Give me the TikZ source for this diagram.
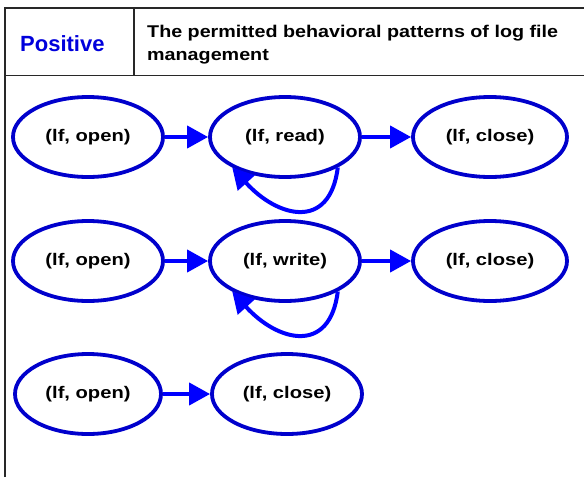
\documentclass[tikz,border=0pt]{standalone}
\usepackage{fontspec}
\setmainfont{Liberation Sans}
\newfontfamily\labfont{Liberation Sans}[FakeStretch=1.2]
\newfontfamily\hdrfont{Liberation Sans}[FakeStretch=1.16]
\usetikzlibrary{shapes.geometric,arrows.meta}
\definecolor{ringblue}{RGB}{0,0,204}
\definecolor{arrowblue}{RGB}{0,0,255}
\definecolor{titleblue}{RGB}{0,0,220}
\definecolor{framegray}{RGB}{40,40,40}
\tikzset{
  state/.style={ellipse, draw=ringblue, line width=3.8pt, inner sep=0pt,
    minimum width=150pt, minimum height=80pt,
    font=\labfont\bfseries\fontsize{16.8}{18}\selectfont},
  flow/.style={draw=arrowblue, line width=4pt,
    -{Triangle[length=21pt,width=22pt]}},
  frameline/.style={draw=framegray, line width=1.3pt}
}
\begin{document}
\begin{tikzpicture}[x=1pt,y=-1pt]
  \useasboundingbox (0,0) rectangle (584,477);

  % table frame and header
  \draw[frameline] (5,477) -- (5,8) -- (584,8);
  \draw[frameline] (5,75.5) -- (584,75.5);
  \draw[frameline] (134,8) -- (134,75.5);
  \node[anchor=base west, inner sep=0pt, text=titleblue,
        font=\bfseries\fontsize{22}{24}\selectfont] (pos) at (20,51) {Positive};
  \node[anchor=base west, inner sep=0pt,
        font=\hdrfont\bfseries\fontsize{17}{19}\selectfont] (hdr1) at (147,37)
        {The permitted behavioral patterns of log file};
  \node[anchor=base west, inner sep=0pt,
        font=\hdrfont\bfseries\fontsize{17}{19}\selectfont] (hdr2) at (147,60)
        {management};

  % read sequence
  \node[state] (o1) at (88,137) {(lf, open)};
  \node[state] (r1) at (285,137) {(lf, read)};
  \node[state, minimum width=154pt] (c1) at (490,137) {(lf, close)};
  \draw[flow] (o1) -- (r1);
  \draw[flow] (r1) -- (c1);
  \draw[flow] (r1.-30) .. controls +(-8,64) and +(45,50) .. (r1.-150);

  % write sequence
  \node[state] (o2) at (88,261) {(lf, open)};
  \node[state] (w2) at (285,261) {(lf, write)};
  \node[state, minimum width=154pt] (c2) at (490,261) {(lf, close)};
  \draw[flow] (o2) -- (w2);
  \draw[flow] (w2) -- (c2);
  \draw[flow] (w2.-30) .. controls +(-8,64) and +(45,50) .. (w2.-150);

  % open then close
  \node[state, minimum width=146pt] (o3) at (88,394) {(lf, open)};
  \node[state] (c3) at (287,394) {(lf, close)};
  \draw[flow] (o3) -- (c3);
\end{tikzpicture}
\end{document}
